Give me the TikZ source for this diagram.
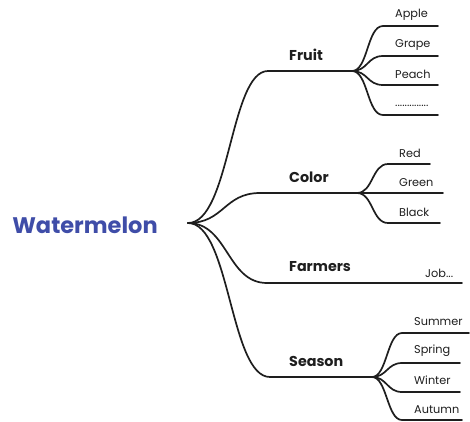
\documentclass[tikz,border=0pt]{standalone}
\usepackage{fontspec}
\setmainfont{Poppins}
\definecolor{rootblue}{HTML}{3F4DA8}
\definecolor{ink}{HTML}{1E1E1E}
\begin{document}
\begin{tikzpicture}[x=1pt,y=-1pt,
  branch/.style={draw=ink,line width=1.7pt,line cap=round},
  rootlabel/.style={font=\bfseries\fontsize{22.5}{26}\selectfont,text=rootblue,inner sep=0pt},
  mainlabel/.style={font=\bfseries\fontsize{14.3}{16}\selectfont,text=ink,inner sep=0pt,anchor=west},
  leaflabel/.style={font=\fontsize{11.3}{13}\selectfont,text=ink,inner sep=0pt,anchor=west}]
\useasboundingbox (0,0) rectangle (470,421);
% root
\node[rootlabel] (wm) at (85,225) {Watermelon};
\coordinate (root) at (188,223);
% main branches
\coordinate (fruitA) at (268,71);   \coordinate (fruitB) at (352,71);
\coordinate (colorA) at (260,193);  \coordinate (colorB) at (357,193);
\coordinate (farmA) at (267,283);   \coordinate (farmB) at (462,283);
\coordinate (seasA) at (270,377);   \coordinate (seasB) at (372,377);
% leaves
\coordinate (appleA) at (383,26);  \coordinate (appleB) at (438,26);
\coordinate (grapeA) at (383,56);  \coordinate (grapeB) at (438,56);
\coordinate (peachA) at (383,85);  \coordinate (peachB) at (438,85);
\coordinate (dotsA) at (383,115);  \coordinate (dotsB) at (438,115);
\coordinate (redA) at (388,164);   \coordinate (redB) at (430,164);
\coordinate (greenA) at (388,193); \coordinate (greenB) at (443,193);
\coordinate (blackA) at (388,223); \coordinate (blackB) at (440,223);
\coordinate (sumA) at (402,333);   \coordinate (sumB) at (469,333);
\coordinate (sprA) at (402,363);   \coordinate (sprB) at (460,363);
\coordinate (winA) at (402,392);   \coordinate (winB) at (460,392);
\coordinate (autA) at (402,420);   \coordinate (autB) at (462,420);
% root curves
\draw[branch] (root) .. controls +(42,0) and +(-38,0) .. (fruitA) -- (fruitB);
\draw[branch] (root) .. controls +(36,0) and +(-36,0) .. (colorA) -- (colorB);
\draw[branch] (root) .. controls +(40,0) and +(-40,0) .. (farmA) -- (farmB);
\draw[branch] (root) .. controls +(42,0) and +(-40,0) .. (seasA) -- (seasB);
% leaf curves
\foreach \a/\b in {appleA/appleB,grapeA/grapeB,peachA/peachB,dotsA/dotsB}
  \draw[branch] (fruitB) .. controls +(16,0) and +(-16,0) .. (\a) -- (\b);
\foreach \a/\b in {redA/redB,blackA/blackB}
  \draw[branch] (colorB) .. controls +(16,0) and +(-16,0) .. (\a) -- (\b);
\draw[branch] (colorB) -- (greenA) -- (greenB);
\foreach \a/\b in {sumA/sumB,sprA/sprB,winA/winB,autA/autB}
  \draw[branch] (seasB) .. controls +(15,0) and +(-15,0) .. (\a) -- (\b);
% labels
\node[mainlabel] (fruit) at (289,55) {Fruit};
\node[mainlabel] (color) at (289,177) {Color};
\node[mainlabel] (farm) at (289,267) {Farmers};
\node[mainlabel] (seas) at (289,361) {Season};
\node[leaflabel] (apple) at (395,15) {Apple};
\node[leaflabel] (grape) at (395,45) {Grape};
\node[leaflabel] (peach) at (395,74) {Peach};
\node[leaflabel] (dots) at (395,106) {..............};
\node[leaflabel] (red) at (399,153) {Red};
\node[leaflabel] (green) at (399,183) {Green};
\node[leaflabel] (black) at (399,212) {Black};
\node[leaflabel] (job) at (425,273) {Job...};
\node[leaflabel] (summer) at (414,322) {Summer};
\node[leaflabel] (spring) at (414,351) {Spring};
\node[leaflabel] (winter) at (414,380) {Winter};
\node[leaflabel] (autumn) at (414,410) {Autumn};
\end{tikzpicture}
\end{document}
